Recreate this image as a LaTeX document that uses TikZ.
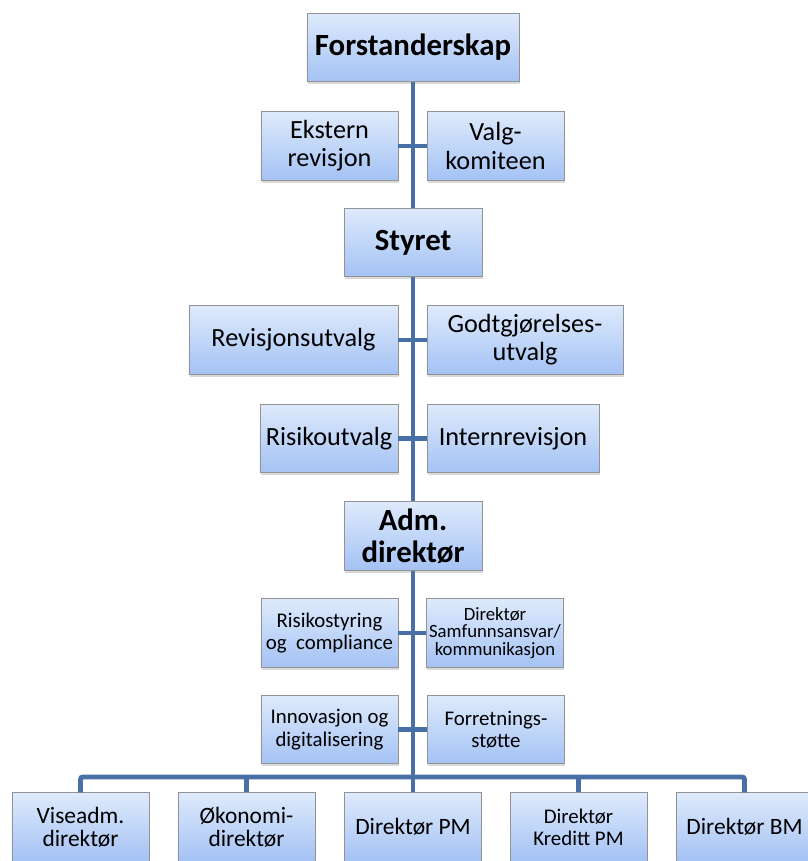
\documentclass[tikz,border=0pt]{standalone}
\usepackage{fontspec}
\setmainfont{Carlito}
\usetikzlibrary{shadows}
\definecolor{linkblue}{RGB}{72,112,166}
\definecolor{boxtop}{RGB}{222,234,252}
\definecolor{boxbot}{RGB}{164,194,244}

\begin{document}
\begin{tikzpicture}[x=0.03cm,y=-0.03cm,
  box/.style={draw=gray!85,line width=0.6pt,top color=boxtop,bottom color=boxbot,
    align=center,inner sep=0pt,minimum height=2.05cm,minimum width=4.11cm,
    drop shadow={shadow xshift=0.8pt,shadow yshift=-2.2pt,opacity=0.3}},
  conn/.style={draw=linkblue,line width=4.2pt},
  bigtxt/.style={font=\fontsize{26.3}{27}\selectfont\bfseries},
  midtxt/.style={font=\fontsize{22.4}{24}\selectfont},
  lowtxt/.style={font=\fontsize{20}{20}\selectfont},
  smalltxt/.style={font=\fontsize{17.8}{19}\selectfont},
  tinytxt/.style={font=\fontsize{16}{14.8}\selectfont}]
\clip (0,0) rectangle (808,861);

\node[box,bigtxt,minimum width=6.36cm] (forst) at (413,47.5) {Forstanderskap};
\node[box,midtxt] (ekst) at (329.5,146) {Ekstern\\revisjon};
\node[box,midtxt] (valg) at (495.5,146) {Valg-\\komiteen};
\node[box,bigtxt,minimum width=4.14cm] (styret) at (413,242.5) {Styret};
\node[box,midtxt,minimum width=6.27cm] (revu) at (293.5,340) {Revisjonsutvalg};
\node[box,midtxt,minimum width=5.88cm] (godt) at (525,340) {Godtgjørelses-\\utvalg};
\node[box,midtxt,minimum width=4.14cm] (risu) at (329,438.5) {Risikoutvalg};
\node[box,midtxt,minimum width=5.16cm] (intern) at (513,438.5) {Internrevisjon};
\node[box,bigtxt,minimum width=4.14cm] (adm) at (413,536) {Adm.\\direktør};
\node[box,smalltxt] (risst) at (329.5,633) {Risikostyring\\og~ compliance};
\node[box,tinytxt] (samf) at (495,633) {Direktør\\Samfunnsansvar/\\kommunikasjon};
\node[box,smalltxt] (innov) at (329.5,729.5) {Innovasjon og\\digitalisering};
\node[box,smalltxt] (forr) at (496,729.5) {Forretnings-\\støtte};

\node[box,lowtxt] (vise) at (80.5,827) {Viseadm.\\direktør};
\node[box,lowtxt] (oko) at (246.5,827) {Økonomi-\\direktør};
\node[box,lowtxt] (dirpm) at (413,827) {Direktør PM};
\node[box,smalltxt] (kreditt) at (578.5,827) {Direktør\\Kreditt PM};
\node[box,lowtxt] (bm) at (744.5,827) {Direktør BM};

\coordinate (bar) at (413,777);
\draw[conn] (forst) -- (styret);
\draw[conn] (styret) -- (adm);
\draw[conn] (adm) -- (bar);
\foreach \l/\r in {ekst/valg,revu/godt,risu/intern,risst/samf,innov/forr}
  \draw[conn] (\l.east) -- (\r.west);
\draw[conn,rounded corners=2pt] (vise.north) |- (bar) -| (bm.north);
\foreach \n in {oko,dirpm,kreditt}
  \draw[conn] (\n.north) -- (\n.north |- bar);
\end{tikzpicture}
\end{document}
